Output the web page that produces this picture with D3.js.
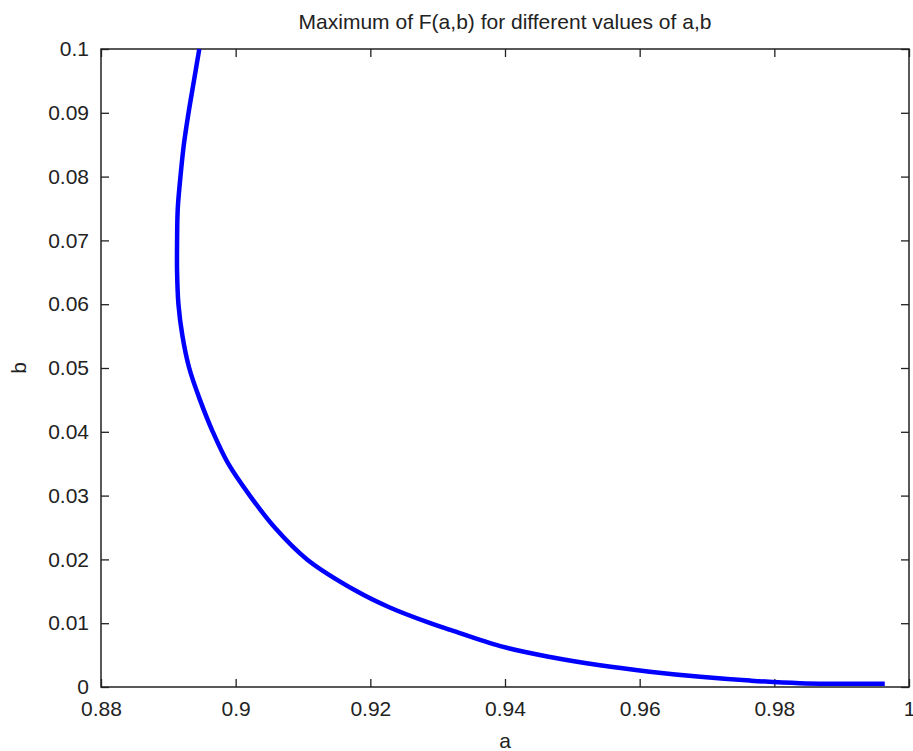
<!DOCTYPE html>
<html>
<head>
<meta charset="utf-8">
<script src="https://cdn.jsdelivr.net/npm/d3@7"></script>
<style>
  body { margin: 0; background: #fff; }
  text { font-family: "Liberation Sans", Arial, sans-serif; fill: #222; }
</style>
</head>
<body>
<svg id="chart" width="913" height="751"></svg>
<script>
// curve, ordered from top (b = 0.1) down the tail
var aValues = [0.8946, 0.8938, 0.8930, 0.8923, 0.8918, 0.8914, 0.8913, 0.8913, 0.8915, 0.8921,
               0.8931, 0.8947, 0.8966, 0.8989, 0.9021, 0.9058, 0.9106, 0.9180, 0.9228, 0.9289,
               0.9320, 0.9393, 0.9467, 0.9541, 0.9615, 0.9690, 0.9764, 0.9838, 0.9964];
var bValues = [0.100, 0.095, 0.090, 0.085, 0.080, 0.075, 0.070, 0.065, 0.060, 0.055,
               0.050, 0.045, 0.040, 0.035, 0.030, 0.025, 0.020, 0.015, 0.0125, 0.010,
               0.0089, 0.0064, 0.0047, 0.0034, 0.0024, 0.0016, 0.0010, 0.0006, 0.0005];
var xTicks = [0.88, 0.9, 0.92, 0.94, 0.96, 0.98, 1];
var yTicks = [0, 0.01, 0.02, 0.03, 0.04, 0.05, 0.06, 0.07, 0.08, 0.09, 0.1];

var margin = {left: 101, top: 49, right: 4, bottom: 64};
var width = 913 - margin.left - margin.right;
var height = 751 - margin.top - margin.bottom;

var svg = d3.select("#chart");
var g = svg.append("g").attr("transform", "translate(" + margin.left + "," + margin.top + ")");

var x = d3.scaleLinear().domain([0.88, 1]).range([0, width]);
var y = d3.scaleLinear().domain([0, 0.1]).range([height, 0]);

var fmt = d => d3.format("")(+d.toFixed(2));

// MATLAB style: ticks inside, on all four sides
function styleAxis(sel, showLabels) {
    sel.select(".domain").remove();
    sel.selectAll("line").attr("stroke", "#222").attr("stroke-width", 1.3);
    if (!showLabels) sel.selectAll("text").remove();
    else sel.selectAll("text").style("font-size", "21px").attr("fill", "#222");
}

g.append("g").attr("transform", "translate(0," + height + ")")
    .call(d3.axisBottom(x).tickValues(xTicks).tickSize(-8).tickPadding(14).tickFormat(fmt))
    .call(s => styleAxis(s, true));
g.append("g")
    .call(d3.axisTop(x).tickValues(xTicks).tickSize(-8))
    .call(s => styleAxis(s, false));
g.append("g")
    .call(d3.axisLeft(y).tickValues(yTicks).tickSize(-8).tickPadding(12).tickFormat(fmt))
    .call(s => styleAxis(s, true));
g.append("g").attr("transform", "translate(" + width + ",0)")
    .call(d3.axisRight(y).tickValues(yTicks).tickSize(-8))
    .call(s => styleAxis(s, false));

g.append("rect")
    .attr("width", width).attr("height", height)
    .attr("fill", "none").attr("stroke", "#222").attr("stroke-width", 1.5);

var pts = aValues.map((a, i) => [a, bValues[i]]);
var line = d3.line().x(d => x(d[0])).y(d => y(d[1])).curve(d3.curveCatmullRom);

g.append("path")
    .datum(pts)
    .attr("d", line)
    .attr("fill", "none")
    .attr("stroke", "#0000ff")
    .attr("stroke-width", 4.5)
    .attr("stroke-linejoin", "round");

svg.append("text")
    .attr("x", margin.left + width / 2).attr("y", 29)
    .attr("text-anchor", "middle").style("font-size", "21px")
    .text("Maximum of F(a,b) for different values of a,b");

svg.append("text")
    .attr("x", margin.left + width / 2).attr("y", 748)
    .attr("text-anchor", "middle").style("font-size", "21px")
    .text("a");

svg.append("text")
    .attr("transform", "translate(26," + (margin.top + height / 2) + ") rotate(-90)")
    .attr("text-anchor", "middle").style("font-size", "21px")
    .text("b");
</script>
</body>
</html>
